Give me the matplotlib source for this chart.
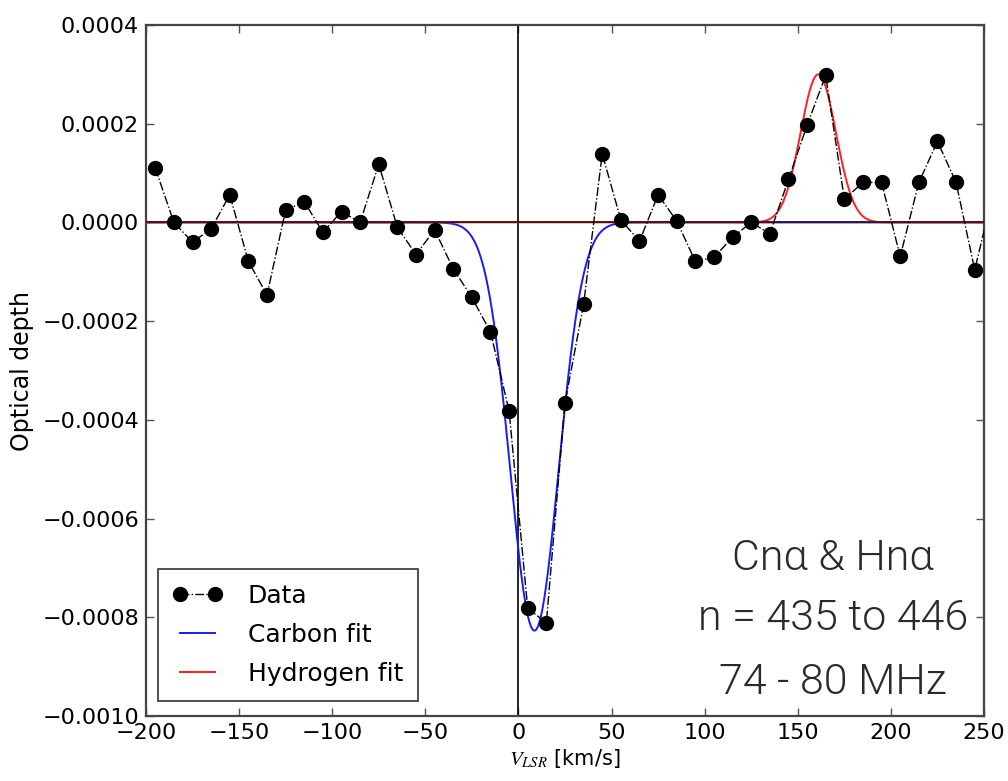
import matplotlib
matplotlib.use('Agg')
import matplotlib.pyplot as plt
import numpy


# velocity channels (km/s) and measured optical depth (units of 1e-4)
velocity = [-195, -185, -175, -165, -155, -145, -135, -125, -115, -105,
            -95, -85, -75, -65, -55, -45, -35, -25, -15, -5,
            5, 15, 25, 35, 45, 55, 65, 75, 85, 95,
            105, 115, 125, 135, 145, 155, 165, 175, 185, 195,
            205, 215, 225, 235, 245, 255]
tau_1e4 = [1.10, 0.00, -0.40, -0.13, 0.56, -0.79, -1.47, 0.25, 0.42, -0.20,
           0.22, 0.00, 1.18, -0.10, -0.65, -0.15, -0.94, -1.52, -2.22, -3.82,
           -7.82, -8.11, -3.66, -1.66, 1.39, 0.05, -0.38, 0.56, 0.03, -0.79,
           -0.71, -0.30, 0.00, -0.23, 0.87, 1.97, 2.98, 0.47, 0.81, 0.81,
           -0.69, 0.81, 1.64, 0.81, -0.96, 0.60]

# gaussian fit parameters: amplitude, centre (km/s), sigma (km/s)
carbon_fit = [-8.27e-4, 8.6, 13.0]
hydrogen_fit = [3.0e-4, 161.0, 9.5]

x_ticks = [-200, -150, -100, -50, 0, 50, 100, 150, 200, 250]
y_ticks = [0.0004, 0.0002, 0.0, -0.0002, -0.0004, -0.0006, -0.0008, -0.0010]
label_lines = [u'Cn\u03b1 & Hn\u03b1', 'n = 435 to 446', '74 - 80 MHz']

NARROW = ['Liberation Sans Narrow', 'DejaVu Sans']


def gauss(v, amp, v0, sig):
    return amp * numpy.exp(-0.5 * ((v - v0) / sig) ** 2)


def main():
    plt.rcParams['font.family'] = ['DejaVu Sans']
    plt.rcParams['mathtext.fontset'] = 'stix'

    fig = plt.figure(figsize=(10.08, 7.81), dpi=100)
    ax = fig.add_axes([0.1448, 0.0832, 0.8314, 0.8848])

    v = numpy.asarray(velocity, dtype=float)
    tau = numpy.asarray(tau_1e4) * 1e-4
    vv = numpy.linspace(-200, 250, 2000)

    ax.plot(v, tau, color='black', ls='-.', lw=1.0, marker='o', ms=10,
            label='Data', zorder=5)
    ax.plot(vv, gauss(vv, *carbon_fit), color='#1a1aff', lw=1.4,
            label='Carbon fit', zorder=3)
    ax.plot(vv, gauss(vv, *hydrogen_fit), color='#ff2020', lw=1.4,
            label='Hydrogen fit', zorder=3)
    # reference lines drawn over the flat parts of the fits
    ax.axvline(0, color='black', lw=1.2, zorder=2)
    ax.axhline(0, color='#3a1515', lw=1.3, zorder=4)

    ax.set_xlim(-200, 250)
    ax.set_ylim(-0.0010, 0.0004)
    ax.set_xticks(x_ticks)
    ax.set_yticks(y_ticks)
    ax.set_yticklabels(['%.4f' % t if t >= 0 else u'\u2212%.4f' % abs(t) for t in y_ticks])
    ax.set_xticklabels([str(t) if t >= 0 else u'\u2212%d' % abs(t) for t in x_ticks],
                       family=NARROW)
    ax.tick_params(direction='in', top=True, right=True, length=6, width=1,
                   color='#555555', labelsize=16, pad=5)

    for s in ax.spines.values():
        s.set_linewidth(1.6)
        s.set_color('#444444')

    ax.set_ylabel('Optical depth', fontsize=17, family=NARROW, labelpad=6)
    ax.set_xlabel(r'$V_{LSR}$ [km/s]', fontsize=15, family=NARROW, labelpad=3)

    leg = ax.legend(loc='lower left', fontsize=18, frameon=True, fancybox=False,
                    numpoints=2, handlelength=2.0, borderpad=0.6,
                    labelspacing=0.6, handletextpad=1.0, borderaxespad=0,
                    bbox_to_anchor=(0.0143, 0.0217))
    leg.get_frame().set_edgecolor('black')
    leg.get_frame().set_linewidth(1.2)

    ys = [558, 618, 683]
    for txt, yp in zip(label_lines, ys):
        fig.text(833 / 1008, 1 - yp / 781, txt, ha='center', va='center',
                 fontsize=31, color='#2a2a2a', fontweight=300,
                 family=['Roboto', 'DejaVu Sans'])

    fig.savefig('out.png', dpi=100)


if __name__ == '__main__':
    main()
